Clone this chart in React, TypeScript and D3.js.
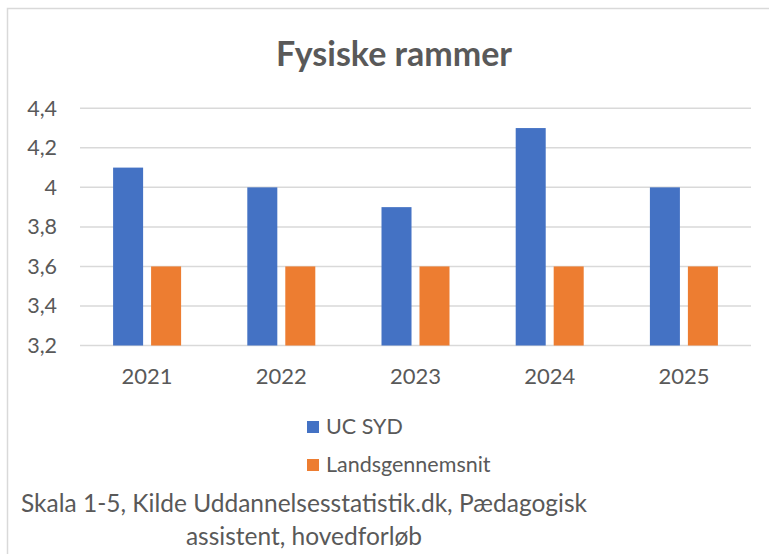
import { useEffect, useRef } from "react";
import * as d3 from "d3";

const years = ["2021", "2022", "2023", "2024", "2025"];
const seriesNames = ["UC SYD", "Landsgennemsnit"];
const ucSyd = [4.1, 4.0, 3.9, 4.3, 4.0];
const landsgennemsnit = [3.6, 3.6, 3.6, 3.6, 3.6];
const yTicks = [3.2, 3.4, 3.6, 3.8, 4.0, 4.2, 4.4];
const colors = ["#4472C4", "#ED7D31"];

const WIDTH = 769;
const HEIGHT = 554;
const FONT = "Lato, 'Noto Sans', sans-serif";

const App = () => {
  const ref = useRef<SVGSVGElement>(null);

  useEffect(() => {
    document.body.style.margin = "0";
    const svg = d3.select(ref.current);
    svg.selectAll("*").remove();

    // chart frame (runs off the right and bottom edge)
    svg
      .append("rect")
      .attr("x", 7.5)
      .attr("y", 8.5)
      .attr("width", 800)
      .attr("height", 600)
      .attr("fill", "white")
      .attr("stroke", "#D9D9D9")
      .attr("stroke-width", 1.5);

    const x0 = d3.scaleBand().domain(years).range([80, 751]).padding(0);
    const x1 = d3
      .scaleBand()
      .domain(seriesNames)
      .range([x0.bandwidth() / 2 - 34, x0.bandwidth() / 2 + 34])
      .paddingInner(0.21);
    const y = d3.scaleLinear().domain([3.2, 4.4]).range([345.5, 108.3]);

    svg
      .append("text")
      .attr("x", 394)
      .attr("y", 66)
      .attr("text-anchor", "middle")
      .style("font-family", FONT)
      .style("font-size", "34px")
      .style("font-weight", "bold")
      .attr("fill", "#595959")
      .text("Fysiske rammer");

    // gridlines
    svg
      .selectAll("line.grid")
      .data(yTicks)
      .enter()
      .append("line")
      .attr("x1", 80)
      .attr("x2", 751)
      .attr("y1", (d) => y(d))
      .attr("y2", (d) => y(d))
      .attr("stroke", "#D9D9D9")
      .attr("stroke-width", 1.5);

    const fmt = (d: number) => (Number.isInteger(d) ? String(d) : d.toFixed(1).replace(".", ","));

    svg
      .selectAll("text.ytick")
      .data(yTicks)
      .enter()
      .append("text")
      .attr("x", 57)
      .attr("y", (d) => y(d) + 7.5)
      .attr("text-anchor", "end")
      .style("font-family", FONT)
      .style("font-size", "21.5px")
      .attr("fill", "#595959")
      .text(fmt);

    const rows = years.map((yr, i) => ({ yr, values: [ucSyd[i], landsgennemsnit[i]] }));

    const groups = svg
      .selectAll("g.year")
      .data(rows)
      .enter()
      .append("g")
      .attr("transform", (d) => "translate(" + x0(d.yr) + ",0)");

    groups
      .selectAll("rect")
      .data((d) => d.values.map((v, j) => ({ name: seriesNames[j], v, j })))
      .enter()
      .append("rect")
      .attr("x", (d) => x1(d.name) as number)
      .attr("width", x1.bandwidth())
      .attr("y", (d) => y(d.v))
      .attr("height", (d) => y(3.2) - y(d.v))
      .attr("fill", (d) => colors[d.j]);

    svg
      .selectAll("text.xtick")
      .data(years)
      .enter()
      .append("text")
      .attr("x", (d) => (x0(d) as number) + x0.bandwidth() / 2)
      .attr("y", 384)
      .attr("text-anchor", "middle")
      .style("font-family", FONT)
      .style("font-size", "22px")
      .attr("fill", "#595959")
      .text((d) => d);

    // legend
    const legend = svg
      .selectAll("g.legend")
      .data(seriesNames)
      .enter()
      .append("g")
      .attr("transform", (d, i) => "translate(307," + (421 + i * 38) + ")");

    legend
      .append("rect")
      .attr("width", 12)
      .attr("height", 12)
      .attr("fill", (d, i) => colors[i]);

    legend
      .append("text")
      .attr("x", 19)
      .attr("y", 12.5)
      .style("font-family", FONT)
      .style("font-size", "21.5px")
      .attr("fill", "#595959")
      .text((d) => d);

    // caption
    const caption = [
      "Skala 1-5, Kilde Uddannelsesstatistik.dk, Pædagogisk",
      "assistent, hovedforløb",
    ];
    svg
      .selectAll("text.caption")
      .data(caption)
      .enter()
      .append("text")
      .attr("x", 304)
      .attr("y", (d, i) => 512 + i * 33)
      .attr("text-anchor", "middle")
      .style("font-family", FONT)
      .style("font-size", "24.5px")
      .attr("fill", "#595959")
      .text((d) => d);
  }, []);

  return <svg ref={ref} width={WIDTH} height={HEIGHT} style={{ display: "block" }} />;
};

export default App;
